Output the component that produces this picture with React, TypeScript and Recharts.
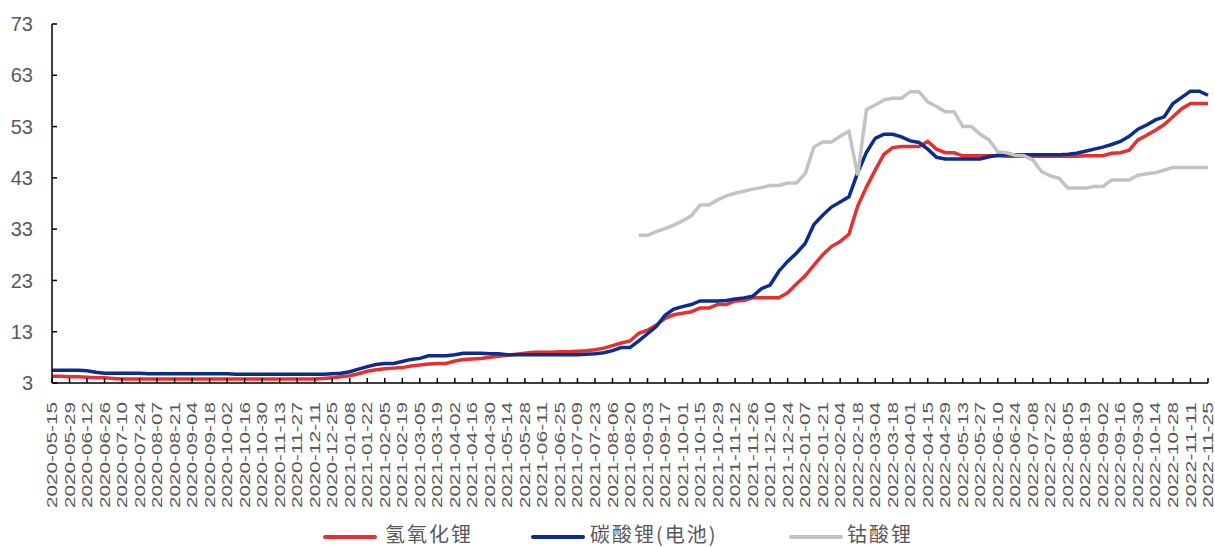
import React from 'react';
import { LineChart, Line, XAxis, YAxis, Legend } from 'recharts';

// weekly price series (万元/吨), first week 2020-05-15
const FIRST_WEEK = '2020-05-15';
const WEEK_COUNT = 133;

const Y_TICKS = [3, 13, 23, 33, 43, 53, 63, 73];

const SERIES_NAMES = ['氢氧化锂', '碳酸锂(电池)', '钴酸锂'];
const SERIES_COLORS = ['#e5302f', '#0b2d8c', '#c3c3c3'];

const lithiumHydroxide = [
  4.3, 4.3, 4.2, 4.2, 4.1, 4.0, 4.0, 3.9, 3.8, 3.8,
  3.8, 3.8, 3.8, 3.8, 3.8, 3.8, 3.8, 3.8, 3.8, 3.8,
  3.8, 3.8, 3.8, 3.8, 3.8, 3.8, 3.8, 3.8, 3.8, 3.8,
  3.8, 3.9, 4.0, 4.2, 4.4, 4.8, 5.3, 5.6, 5.8, 5.9,
  6.0, 6.3, 6.5, 6.7, 6.8, 6.8, 7.3, 7.6, 7.7, 7.8,
  8.0, 8.2, 8.4, 8.6, 8.8, 9.0, 9.0, 9.0, 9.1, 9.1,
  9.2, 9.3, 9.5, 9.8, 10.3, 10.8, 11.2, 12.7, 13.3, 14.3,
  15.6, 16.3, 16.6, 16.9, 17.6, 17.6, 18.3, 18.3, 19.0, 19.1,
  19.6, 19.6, 19.6, 19.6, 20.6, 22.3, 23.9, 26.0, 28.0, 29.6,
  30.6, 32.0, 37.5, 41.2, 44.5, 47.6, 48.9, 49.1, 49.1, 49.1,
  50.1, 48.6, 47.9, 47.9, 47.3, 47.3, 47.3, 47.3, 47.3, 47.2,
  47.2, 47.2, 47.2, 47.2, 47.2, 47.2, 47.2, 47.2, 47.3, 47.3,
  47.3, 47.8, 47.9, 48.4, 50.4, 51.3, 52.3, 53.4, 54.9, 56.5,
  57.5, 57.5, 57.5,
];

const lithiumCarbonate = [
  5.5, 5.5, 5.5, 5.5, 5.4, 5.1, 4.9, 4.9, 4.9, 4.9,
  4.9, 4.8, 4.8, 4.8, 4.8, 4.8, 4.8, 4.8, 4.8, 4.8,
  4.8, 4.7, 4.7, 4.7, 4.7, 4.7, 4.7, 4.7, 4.7, 4.7,
  4.7, 4.7, 4.8, 4.9, 5.2, 5.7, 6.2, 6.6, 6.8, 6.8,
  7.2, 7.6, 7.8, 8.3, 8.3, 8.3, 8.5, 8.8, 8.8, 8.8,
  8.7, 8.7, 8.5, 8.5, 8.5, 8.5, 8.5, 8.5, 8.5, 8.5,
  8.5, 8.6, 8.7, 8.9, 9.3, 9.9, 9.9, 11.2, 12.6, 14.0,
  16.2, 17.4, 17.9, 18.3, 19.0, 19.0, 19.0, 19.1, 19.4, 19.6,
  19.9, 21.4, 22.1, 24.8, 26.7, 28.3, 30.2, 33.9, 35.7, 37.3,
  38.3, 39.3, 44.0, 48.0, 50.7, 51.5, 51.5, 51.0, 50.2, 49.9,
  48.6, 47.0, 46.7, 46.7, 46.7, 46.7, 46.7, 47.1, 47.4, 47.5,
  47.5, 47.5, 47.5, 47.5, 47.5, 47.5, 47.6, 47.8, 48.2, 48.6,
  49.0, 49.5, 50.1, 51.1, 52.5, 53.3, 54.3, 54.9, 57.5, 58.7,
  59.9, 59.9, 59.1,
];

// cobalt series only quoted from week 67 on
const COBALT_START = 67;
const lithiumCobaltate = [
  31.8, 31.8, 32.5, 33.1, 33.8, 34.6, 35.6, 37.7, 37.7, 38.7,
  39.5, 40.0, 40.4, 40.8, 41.1, 41.5, 41.5, 42.0, 42.0, 43.8,
  49.0, 50.0, 50.0, 51.1, 52.1, 43.5, 56.3, 57.2, 58.2, 58.5,
  58.5, 59.8, 59.8, 57.8, 56.9, 55.9, 55.9, 53.0, 53.0, 51.5,
  50.4, 48.1, 47.9, 47.4, 47.3, 46.5, 44.2, 43.4, 42.9, 41.0,
  41.0, 41.0, 41.3, 41.3, 42.6, 42.6, 42.6, 43.5, 43.8, 44.0,
  44.5, 45.0, 45.0, 45.0, 45.0, 45.0,
];

const pad = (n: number) => (n < 10 ? '0' + n : '' + n);

const buildWeeks = (start: string, count: number) => {
  const base = new Date(start + 'T00:00:00Z').getTime();
  const out: string[] = [];
  for (let i = 0; i < count; i++) {
    const d = new Date(base + i * 7 * 86400000);
    out.push(`${d.getUTCFullYear()}-${pad(d.getUTCMonth() + 1)}-${pad(d.getUTCDate())}`);
  }
  return out;
};

const weeks = buildWeeks(FIRST_WEEK, WEEK_COUNT);

const data = weeks.map((date, i) => ({
  date,
  lioh: lithiumHydroxide[i],
  li2co3: lithiumCarbonate[i],
  licoo2: i >= COBALT_START ? lithiumCobaltate[i - COBALT_START] : null,
}));

const AXIS_TEXT = '#595959';

const DateTick = (props: any) => {
  const { x, y, payload } = props;
  return (
    <text
      x={x}
      y={y}
      transform={`rotate(-90 ${x} ${y})`}
      textAnchor="end"
      dy="0.36em"
      fontSize={14}
      fontFamily="'Liberation Sans', Arial, sans-serif"
      fill={AXIS_TEXT}
      textLength={106}
      lengthAdjust="spacingAndGlyphs"
    >
      {payload.value}
    </text>
  );
};

// legend slots: [line left, text left]
const LEGEND_POS = [
  [323, 385],
  [531, 590],
  [789, 847],
];

const LegendContent = () => (
  <div style={{ position: 'relative', width: 1215, height: 40 }}>
    {SERIES_NAMES.map((name, i) => (
      <React.Fragment key={name}>
        <div
          style={{
            position: 'absolute',
            left: LEGEND_POS[i][0],
            top: 28,
            width: 54,
            height: 4,
            borderRadius: 2,
            background: SERIES_COLORS[i],
          }}
        />
        <div
          style={{
            position: 'absolute',
            left: LEGEND_POS[i][1],
            top: 16,
            fontSize: 20,
            lineHeight: '22px',
            letterSpacing: 2,
            color: AXIS_TEXT,
            fontFamily: "'Noto Sans CJK SC', sans-serif",
            whiteSpace: 'nowrap',
          }}
        >
          {name}
        </div>
      </React.Fragment>
    ))}
  </div>
);

export default function App() {
  return (
    <div style={{ position: 'absolute', left: 0, top: 0, width: 1215, height: 547, background: '#fff' }}>
      <LineChart width={1215} height={547} data={data} margin={{ top: 24, right: 7, left: 0, bottom: 0 }}>
        <XAxis
          dataKey="date"
          interval={1}
          height={124}
          tickSize={-5}
          tickMargin={24}
          axisLine={{ stroke: '#000', strokeWidth: 1.5 }}
          tickLine={{ stroke: '#000', strokeWidth: 1.5 }}
          tick={<DateTick />}
        />
        <YAxis
          width={52}
          domain={[3, 73]}
          ticks={Y_TICKS}
          interval={0}
          tickSize={-5}
          tickMargin={24}
          axisLine={{ stroke: '#000', strokeWidth: 1.5 }}
          tickLine={{ stroke: '#000', strokeWidth: 1.5 }}
          tick={{ fill: AXIS_TEXT, fontSize: 20, fontFamily: "'Liberation Sans', Arial, sans-serif" }}
        />
        <Legend verticalAlign="bottom" content={<LegendContent />} wrapperStyle={{ left: 0, width: 1215 }} />
        <Line
          dataKey="lioh"
          name={SERIES_NAMES[0]}
          stroke={SERIES_COLORS[0]}
          strokeWidth={3.5}
          dot={false}
          activeDot={false}
          isAnimationActive={false}
        />
        <Line
          dataKey="li2co3"
          name={SERIES_NAMES[1]}
          stroke={SERIES_COLORS[1]}
          strokeWidth={3.5}
          dot={false}
          activeDot={false}
          isAnimationActive={false}
        />
        <Line
          dataKey="licoo2"
          name={SERIES_NAMES[2]}
          stroke={SERIES_COLORS[2]}
          strokeWidth={3.5}
          dot={false}
          activeDot={false}
          isAnimationActive={false}
        />
      </LineChart>
    </div>
  );
}
